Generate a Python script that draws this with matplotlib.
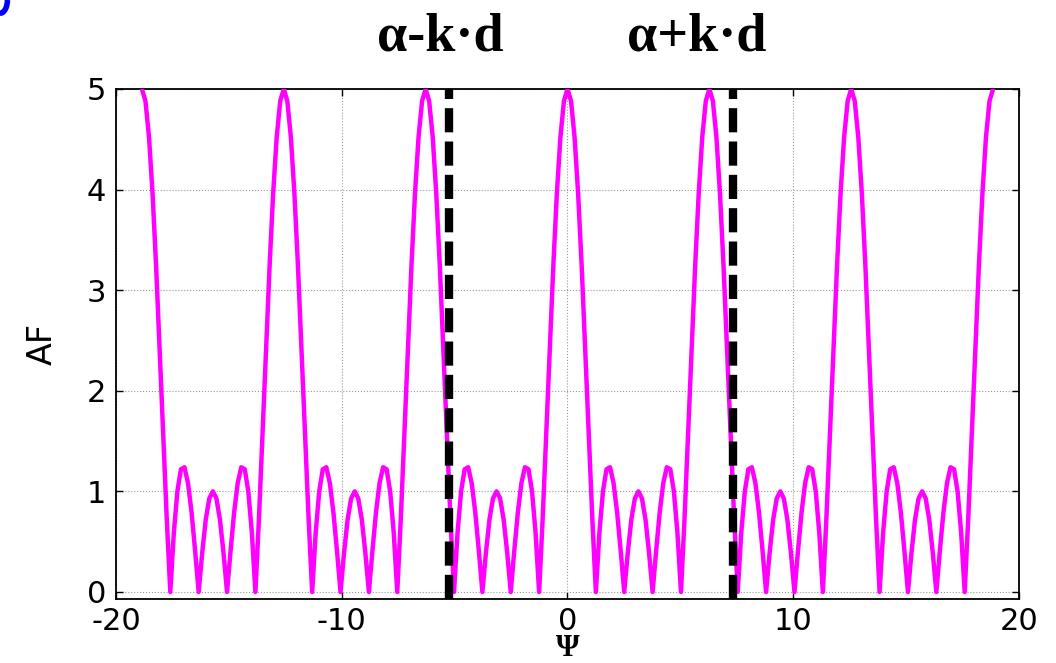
import numpy as np
import matplotlib
matplotlib.use("Agg")
from matplotlib import pyplot as plt
from matplotlib.patches import Arc

# array factor, one row per 2*pi of psi (step pi/20)
af = [
    5, 4.88, 4.52, 3.96, 3.24, 2.41, 1.56, 0.73, 0, 0.59, 1.0, 1.22, 1.24, 1.08, 0.79, 0.41, 0, 0.39, 0.72, 0.93,
    1.0, 0.93, 0.72, 0.39, 0, 0.41, 0.79, 1.08, 1.24, 1.22, 1.0, 0.59, 0, 0.73, 1.56, 2.41, 3.24, 3.96, 4.52, 4.88,
    5, 4.88, 4.52, 3.96, 3.24, 2.41, 1.56, 0.73, 0, 0.59, 1.0, 1.22, 1.24, 1.08, 0.79, 0.41, 0, 0.39, 0.72, 0.93,
    1.0, 0.93, 0.72, 0.39, 0, 0.41, 0.79, 1.08, 1.24, 1.22, 1.0, 0.59, 0, 0.73, 1.56, 2.41, 3.24, 3.96, 4.52, 4.88,
    5, 4.88, 4.52, 3.96, 3.24, 2.41, 1.56, 0.73, 0, 0.59, 1.0, 1.22, 1.24, 1.08, 0.79, 0.41, 0, 0.39, 0.72, 0.93,
    1.0, 0.93, 0.72, 0.39, 0, 0.41, 0.79, 1.08, 1.24, 1.22, 1.0, 0.59, 0, 0.73, 1.56, 2.41, 3.24, 3.96, 4.52, 4.88,
    5, 4.88, 4.52, 3.96, 3.24, 2.41, 1.56, 0.73, 0, 0.59, 1.0, 1.22, 1.24, 1.08, 0.79, 0.41, 0, 0.39, 0.72, 0.93,
    1.0, 0.93, 0.72, 0.39, 0, 0.41, 0.79, 1.08, 1.24, 1.22, 1.0, 0.59, 0, 0.73, 1.56, 2.41, 3.24, 3.96, 4.52, 4.88,
    5, 4.88, 4.52, 3.96, 3.24, 2.41, 1.56, 0.73, 0, 0.59, 1.0, 1.22, 1.24, 1.08, 0.79, 0.41, 0, 0.39, 0.72, 0.93,
    1.0, 0.93, 0.72, 0.39, 0, 0.41, 0.79, 1.08, 1.24, 1.22, 1.0, 0.59, 0, 0.73, 1.56, 2.41, 3.24, 3.96, 4.52, 4.88,
    5, 4.88, 4.52, 3.96, 3.24, 2.41, 1.56, 0.73, 0, 0.59, 1.0, 1.22, 1.24, 1.08, 0.79, 0.41, 0, 0.39, 0.72, 0.93,
    1.0, 0.93, 0.72, 0.39, 0, 0.41, 0.79, 1.08, 1.24, 1.22, 1.0, 0.59, 0, 0.73, 1.56, 2.41, 3.24, 3.96, 4.52, 4.88,
    5,
]
psi = np.linspace(-6 * np.pi, 6 * np.pi, len(af))

alpha_minus_kd = -5.23
alpha_plus_kd = 7.33
xticks = [-20, -10, 0, 10, 20]
yticks = [0, 1, 2, 3, 4, 5]

plt.rcParams['font.family'] = ['DejaVu Sans']
plt.rcParams['axes.unicode_minus'] = False

fig = plt.figure(figsize=(10.56, 6.63), dpi=100)
ax = fig.add_axes([0.1098, 0.0965, 0.8552, 0.7693])

ax.plot(psi, af, color='#ff00ff', lw=3.2, zorder=3)
for xv in [alpha_minus_kd, alpha_plus_kd]:
    ax.axvline(xv, color='black', lw=6, dashes=(2.9, 1.1), zorder=4)

ax.set_xlim(-20, 20)
ax.set_ylim(-0.07, 5)
ax.set_xticks(xticks)
ax.set_yticks(yticks)
ax.grid(True, color='#999999', linestyle=':', lw=0.8)
ax.tick_params(direction='in', length=5, width=1, top=True, right=True,
               labelsize=22, pad=6)
ax.tick_params(axis='y', pad=7)
for s in ax.spines.values():
    s.set_linewidth(1.3)

ax.set_ylabel('AF', fontsize=24, labelpad=20)
ax.set_xlabel('Ψ', fontsize=22, family=['Liberation Serif', 'DejaVu Serif'],
              fontweight='bold', labelpad=-2)

fig.text(0.417, 0.944, 'α-k·d', fontsize=39, fontweight='bold', ha='center', va='center',
         family=['Liberation Serif', 'DejaVu Serif'])
fig.text(0.66, 0.944, 'α+k·d', fontsize=39, fontweight='bold', ha='center', va='center',
         family=['Liberation Serif', 'DejaVu Serif'])

# stray blue mark in the top-left corner
fig.add_artist(Arc((0.0, 1.0), 0.014, 0.04, theta1=270, theta2=360, color='#0000ff',
                   lw=4, transform=fig.transFigure))

fig.savefig('out.png', dpi=100)
